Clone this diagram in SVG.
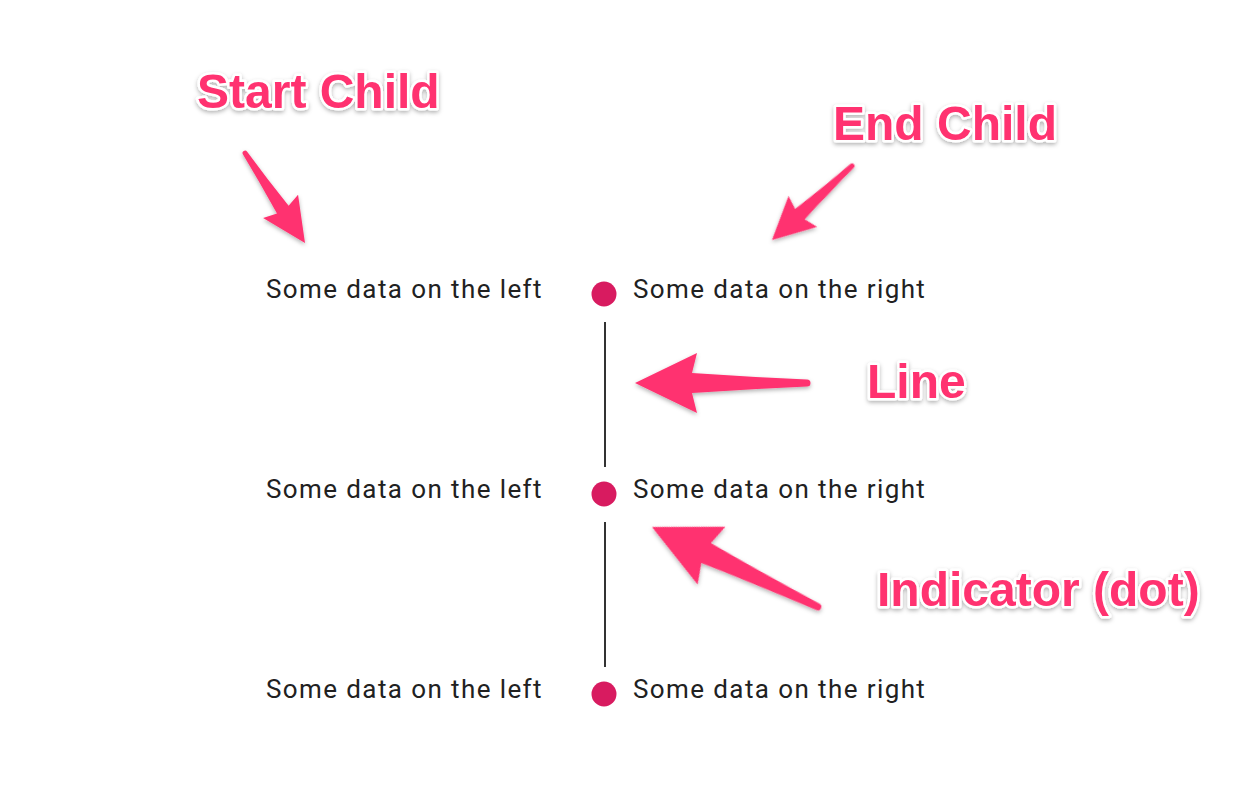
<svg xmlns="http://www.w3.org/2000/svg" width="1260" height="808" viewBox="0 0 1260 808">
<defs>
<filter id="sh" x="-20%" y="-20%" width="140%" height="150%">
<feDropShadow dx="0" dy="2" stdDeviation="2" flood-color="#000" flood-opacity="0.3"/>
</filter>
<style>
.lbl{font-family:"Liberation Sans",Arial,sans-serif;font-weight:bold;font-size:48px;fill:#ff3370;stroke:#fff;stroke-width:5px;paint-order:stroke;stroke-linejoin:round}
.txt{font-family:Roboto,"Noto Sans",sans-serif;font-size:26px;letter-spacing:1.4px;fill:#212121}
.dot{fill:#d81b60}
.ln{stroke:#333;stroke-width:2}
.arr{fill:#ff3370}
</style>
</defs>
<rect width="1260" height="808" fill="#fff"/>
<g id="timeline">
<line class="ln" x1="605" y1="322" x2="605" y2="467"/>
<line class="ln" x1="605" y1="522" x2="605" y2="667"/>
</g>
<g id="row1">
<text class="txt" x="266" y="298">Some data on the left</text>
<circle class="dot" cx="604" cy="294" r="12.5"/>
<text class="txt" x="633" y="298">Some data on the right</text>
</g>
<g id="row2">
<text class="txt" x="266" y="498">Some data on the left</text>
<circle class="dot" cx="604" cy="494" r="12.5"/>
<text class="txt" x="633" y="498">Some data on the right</text>
</g>
<g id="row3">
<text class="txt" x="266" y="698">Some data on the left</text>
<circle class="dot" cx="604" cy="694" r="12.5"/>
<text class="txt" x="633" y="698">Some data on the right</text>
</g>
<g id="labels" filter="url(#sh)">
<text class="lbl" x="197" y="108">Start Child</text>
<text class="lbl" x="833" y="140">End Child</text>
<text class="lbl" x="867" y="398">Line</text>
<text class="lbl" x="877" y="606">Indicator (dot)</text>
</g>
<g id="connectors" filter="url(#sh)">
<path class="arr" transform="translate(305,243) rotate(-123.7)" d="M0,0 L44,-21 L40,-7 Q75,-4 108,-2.5 A2.5,2.5 0 0 1 108,2.5 Q75,4 40,7 L44,21 Z"/>
<path class="arr" transform="translate(772,240) rotate(-42.8)" d="M0,0 L42,-21 L38,-7 Q75,-4 109,-2.5 A2.5,2.5 0 0 1 109,2.5 Q75,4 38,7 L42,21 Z"/>
<path class="arr" transform="translate(635,383)" d="M0,0 L62,-30 L57,-10 Q115,-6 172,-3.5 A3.5,3.5 0 0 1 172,3.5 Q115,6 57,10 L62,30 Z"/>
<path class="arr" transform="translate(652,527) rotate(25.7)" d="M0,0 L66,-32 L60,-11 Q125,-6 184,-3.5 A3.5,3.5 0 0 1 184,3.5 Q125,6 60,11 L66,32 Z"/>
</g>
</svg>
